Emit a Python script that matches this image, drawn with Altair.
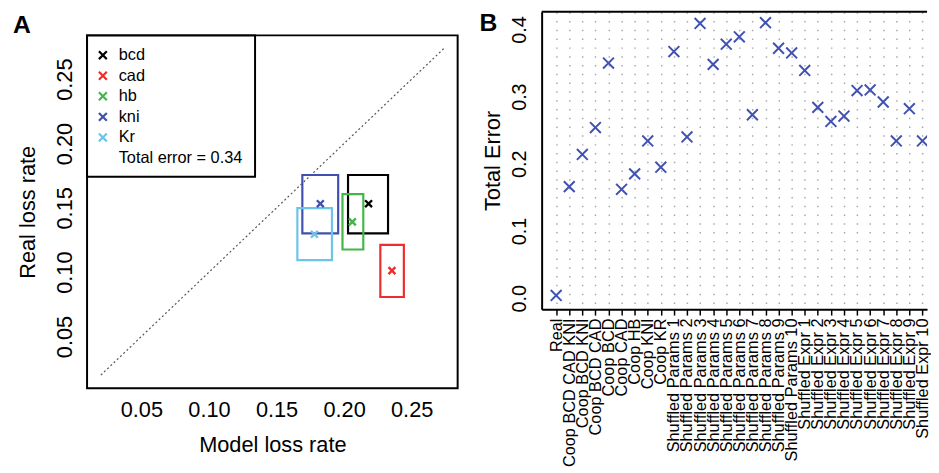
import json
import altair as alt
import pandas as pd

FONT = "Liberation Sans"
XPATH = "M-1,-1L1,1M-1,1L1,-1"

# ---------------- Panel A data ----------------
genes = ["bcd", "cad", "hb", "kni", "Kr"]
gene_colors = ["#000000", "#EE2C2C", "#44B549", "#4150B0", "#6CC4E8"]
model_rate = [0.2181, 0.2354, 0.2061, 0.1824, 0.1780]
real_rate = [0.1532, 0.1012, 0.1391, 0.1532, 0.1294]
model_lo = [0.2029, 0.2268, 0.1988, 0.1691, 0.1654]
model_hi = [0.2325, 0.2442, 0.2142, 0.1956, 0.1910]
real_lo = [0.1301, 0.0807, 0.1176, 0.1301, 0.1094]
real_hi = [0.1755, 0.1212, 0.1606, 0.1755, 0.1498]
total_error_label = "Total error = 0.34"
diag = [0.02, 0.2738]
a_ticks = [0.05, 0.10, 0.15, 0.20, 0.25]

# ---------------- Panel B data ----------------
categories = (
    ["Real", "Coop BCD CAD KNI", "Coop BCD KNI", "Coop BCD CAD", "Coop BCD",
     "Coop CAD", "Coop HB", "Coop KNI", "Coop KR"]
    + [f"Shuffled Params {i}" for i in range(1, 11)]
    + [f"Shuffled Expr {i}" for i in range(1, 11)]
)
total_error = [0.004, 0.166, 0.214, 0.254, 0.350, 0.162, 0.185, 0.234, 0.195,
               0.367, 0.240, 0.409, 0.348, 0.378, 0.389, 0.273, 0.410, 0.372,
               0.365, 0.339, 0.284, 0.263, 0.271, 0.309, 0.310, 0.292, 0.234,
               0.282, 0.234]
b_ticks = [0.0, 0.1, 0.2, 0.3, 0.4]

# ---------------- Panel A ----------------
XA = [0.0098, 0.284]
YA = [0.0098, 0.3024]
WA, HA = 375, 381

xsA = alt.Scale(domain=XA, nice=False, zero=False)
ysA = alt.Scale(domain=YA, nice=False, zero=False)
cscale = alt.Scale(domain=genes, range=gene_colors)

axA_x = alt.Axis(title="Model loss rate", values=a_ticks, format=".2f", grid=False,
                 domain=False, ticks=False, tickSize=0, labelFontSize=22, labelPadding=12,
                 labelColor="black", titleColor="black", titleFontSize=22,
                 titleFontWeight="normal", titleY=64, titleBaseline="alphabetic",
                 labelFont=FONT, titleFont=FONT)
axA_y = alt.Axis(title="Real loss rate", values=a_ticks, format=".2f", grid=False,
                 domain=False, ticks=False, tickSize=0, labelAngle=270, labelAlign="center",
                 labelBaseline="alphabetic", labelPadding=16, labelFontSize=22,
                 labelColor="black", titleColor="black", titleFontSize=22,
                 titleFontWeight="normal", titleAngle=270, titleX=-53, titleY=202.5,
                 titleBaseline="alphabetic", labelFont=FONT, titleFont=FONT)

dfA = pd.DataFrame({"gene": genes, "model": model_rate, "real": real_rate,
                    "mlo": model_lo, "mhi": model_hi, "rlo": real_lo, "rhi": real_hi})
dummy = pd.DataFrame({"k": [0]})

frameA = alt.Chart(pd.DataFrame({"x0": [XA[0]], "x1": [XA[1]], "y0": [XA[0]], "y1": [XA[1]]})).mark_rect(
    fillOpacity=0, stroke="black", strokeWidth=2
).encode(
    x=alt.X("x0:Q", scale=xsA, axis=axA_x), x2="x1:Q",
    y=alt.Y("y0:Q", scale=ysA, axis=axA_y), y2="y1:Q",
)

diagA = alt.Chart(pd.DataFrame({"d": diag})).mark_line(
    color="#555555", strokeWidth=1.2, strokeDash=[2, 2.5]
).encode(
    x=alt.X("d:Q", scale=xsA, axis=axA_x),
    y=alt.Y("d:Q", scale=ysA, axis=axA_y),
)

rectsA = alt.Chart(dfA).mark_rect(fillOpacity=0, strokeWidth=2.2).encode(
    x=alt.X("mlo:Q", scale=xsA, axis=axA_x), x2="mhi:Q",
    y=alt.Y("rlo:Q", scale=ysA, axis=axA_y), y2="rhi:Q",
    stroke=alt.Stroke("gene:N", scale=cscale, legend=None),
)

pointsA = alt.Chart(dfA).mark_point(shape=XPATH, filled=False, size=49, strokeWidth=2.4, opacity=1).encode(
    x=alt.X("model:Q", scale=xsA, axis=axA_x),
    y=alt.Y("real:Q", scale=ysA, axis=axA_y),
    stroke=alt.Stroke("gene:N", scale=cscale, legend=None),
)

# legend (drawn by hand inside the plot)
dfL = pd.DataFrame({"gene": genes, "ly": [44 + 20.8 * i for i in range(len(genes))]})
legend_box = alt.Chart(dummy).mark_rect(fill="white", stroke="black", strokeWidth=2).encode(
    x=alt.value(0), x2=alt.value(170), y=alt.value(24), y2=alt.value(167)
)
legend_sym = alt.Chart(dfL).mark_point(shape=XPATH, filled=False, size=64, strokeWidth=2.2, opacity=1).encode(
    x=alt.value(16), y=alt.Y("ly:Q", scale=None, axis=None),
    stroke=alt.Stroke("gene:N", scale=cscale, legend=None),
)
legend_txt = alt.Chart(dfL).mark_text(align="left", baseline="middle", fontSize=16.5, font=FONT, color="black").encode(
    x=alt.value(32), y=alt.Y("ly:Q", scale=None, axis=None), text="gene:N"
)
legend_total = alt.Chart(dummy).mark_text(text=total_error_label, align="left", baseline="middle",
                                          fontSize=16.5, font=FONT, color="black").encode(
    x=alt.value(32), y=alt.value(148)
)
labelA = alt.Chart(dummy).mark_text(text="A", align="left", baseline="alphabetic", fontSize=25,
                                    fontWeight="bold", font=FONT, color="black").encode(
    x=alt.value(-75), y=alt.value(22)
)

panelA = alt.layer(frameA, diagA, rectsA, pointsA, legend_box, legend_sym, legend_txt,
                   legend_total, labelA).properties(width=WA, height=HA)

# ---------------- Panel B ----------------
WB, HB = 390, 301
XB = [-0.11, 29.35]
YB = [-0.0164, 0.4264]
BLUE = "#4152B2"

xsB = alt.Scale(domain=XB, nice=False, zero=False)
ysB = alt.Scale(domain=YB, nice=False, zero=False)

axB_x = alt.Axis(title=None, values=list(range(1, len(categories) + 1)),
                 labelExpr=json.dumps(categories) + "[datum.value - 1]",
                 labelAngle=270, labelAlign="right", labelBaseline="middle",
                 labelFontSize=16.5, labelPadding=3, labelOverlap=False, labelFlush=False,
                 labelColor="black", labelFont=FONT,
                 ticks=True, tickSize=6, tickWidth=1.5, tickColor="black",
                 domain=True, domainColor="black", domainWidth=2,
                 grid=True, gridColor="#a8a8a8", gridDash=[1.5, 7.4], gridWidth=1.5)
axB_y = alt.Axis(title="Total Error", values=b_ticks, format=".1f", grid=False,
                 ticks=False, tickSize=0, domain=True, domainColor="black", domainWidth=2,
                 labelAngle=270, labelAlign="center", labelBaseline="alphabetic",
                 labelPadding=16, labelFontSize=20, labelColor="black", labelFont=FONT,
                 titleFontSize=22, titleFontWeight="normal", titleColor="black", titleFont=FONT,
                 titleAngle=270, titleX=-43, titleY=150.5, titleBaseline="alphabetic")

dfB = pd.DataFrame({"idx": list(range(1, len(categories) + 1)), "cat": categories,
                    "err": total_error})

pointsB = alt.Chart(dfB).mark_point(shape=XPATH, filled=False, size=121, strokeWidth=2,
                                    color=BLUE, opacity=1, clip=True).encode(
    x=alt.X("idx:Q", scale=xsB, axis=axB_x),
    y=alt.Y("err:Q", scale=ysB, axis=axB_y),
)
topB = alt.Chart(dummy).mark_rule(color="black", strokeWidth=2).encode(
    x=alt.value(0), x2=alt.value(WB), y=alt.value(0)
)
labelB = alt.Chart(dummy).mark_text(text="B", align="left", baseline="alphabetic", fontSize=25,
                                    fontWeight="bold", font=FONT, color="black").encode(
    x=alt.value(-63), y=alt.value(20)
)

panelB = alt.layer(pointsB, topB, labelB).properties(width=WB, height=HB)

chart = alt.hconcat(panelA, panelB, spacing=21).properties(
    padding={"left": 5, "top": 0, "right": 0, "bottom": 0},
    background="white",
).configure(font=FONT).configure_view(stroke=None)

chart.save("out.html", embed_options={"renderer": "svg", "actions": False})
